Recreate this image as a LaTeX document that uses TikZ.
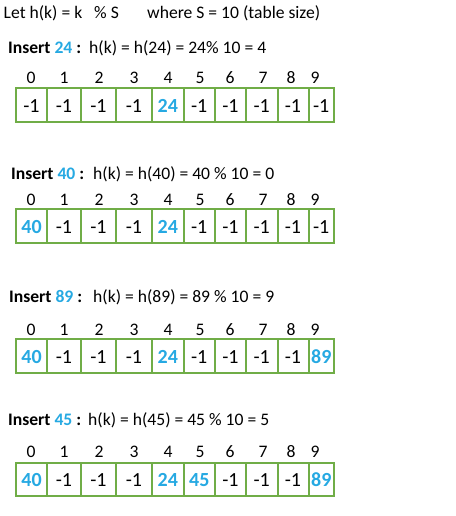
\documentclass[tikz,border=0pt]{standalone}
\usepackage{fontspec}
\setmainfont{Carlito}
\usetikzlibrary{positioning}
\definecolor{keyblue}{RGB}{38,169,226}
\definecolor{cellgreen}{RGB}{112,173,71}
\newcommand{\key}[1]{\textcolor{keyblue}{\bfseries #1}}
\tikzset{
  txt/.style={anchor=base west,inner sep=0pt,font=\fontsize{17.6}{20}\selectfont},
  idx/.style={anchor=base,inner sep=0pt,font=\fontsize{17.6}{20}\selectfont},
  val/.style={anchor=base,inner sep=0pt,font=\fontsize{20}{22}\selectfont},
  cell/.style={rectangle,draw=cellgreen,line width=2pt,minimum height=33.3pt,inner sep=0pt,outer sep=0pt}
}
\begin{document}
\begin{tikzpicture}[x=1pt,y=-1pt]
    \useasboundingbox (0,0) rectangle (455,516);
    \node[txt] (let) at (3.5,18.3) {Let h(k) = k\ \ \ \% S};
    \node[txt] (where) at (147,18.3) {where S = 10 (table size)};

    % insert 24
    \node[txt] (ins1) at (8,53.3) {\textbf{Insert \key{24} :}};
    \node[txt] (h1) at (89,53.3) {h(k) = h(24) = 24\% 10 = 4};
    \foreach \x/\i in {31/0,64/1,99/2,134/3,168/4,200/5,230/6,263/7,291/8,315/9}
      \node[idx] (ia\i) at (\x,83.3) {\i};
    \foreach \l/\r [count=\i from 0] in {16/47,47/81,81/116,116/152,152/183.5,183.5/215,215/246,246/277.5,277.5/308.5,308.5/334}
      \node[cell, minimum width={\r pt-\l pt}] (a\i) at ({(\l+\r)/2},105) {};
    \foreach \v [count=\i from 0] in {-1,-1,-1,-1,\key{24},-1,-1,-1,-1,-1}
      \node[val] (va\i) at ([yshift=-7.5pt]a\i.center) {\v};

    % insert 40
    \node[txt] (ins2) at (11,179) {\textbf{Insert \key{40} :}};
    \node[txt] (h2) at (93,179) {h(k) = h(40) = 40 \% 10 = 0};
    \foreach \x/\i in {31/0,64/1,99/2,134/3,168/4,200/5,230/6,263/7,291/8,315/9}
      \node[idx] (ib\i) at (\x,205.7) {\i};
    \foreach \l/\r [count=\i from 0] in {16/47,47/81,81/116,116/152,152/183.5,183.5/215,215/246,246/277.5,277.5/308.5,308.5/334}
      \node[cell, minimum width={\r pt-\l pt}] (b\i) at ({(\l+\r)/2},226) {};
    \foreach \v [count=\i from 0] in {\key{40},-1,-1,-1,\key{24},-1,-1,-1,-1,-1}
      \node[val] (vb\i) at ([yshift=-7.5pt]b\i.center) {\v};

    % insert 89
    \node[txt] (ins3) at (9,302.3) {\textbf{Insert \key{89} :}};
    \node[txt] (h3) at (93,302.3) {h(k) = h(89) = 89 \% 10 = 9};
    \foreach \x/\i in {31/0,64/1,99/2,134/3,168/4,200/5,230/6,263/7,291/8,315/9}
      \node[idx] (ic\i) at (\x,335.7) {\i};
    \foreach \l/\r [count=\i from 0] in {16/47,47/81,81/116,116/152,152/183.5,183.5/215,215/246,246/277.5,277.5/308.5,308.5/334}
      \node[cell, minimum width={\r pt-\l pt}] (c\i) at ({(\l+\r)/2},356) {};
    \foreach \v [count=\i from 0] in {\key{40},-1,-1,-1,\key{24},-1,-1,-1,-1,\key{89}}
      \node[val] (vc\i) at ([yshift=-7.5pt]c\i.center) {\v};

    % insert 45
    \node[txt] (ins4) at (8,425) {\textbf{Insert \key{45} :}};
    \node[txt] (h4) at (88,425) {h(k) = h(45) = 45 \% 10 = 5};
    \foreach \x/\i in {31/0,64/1,99/2,134/3,168/4,200/5,230/6,263/7,291/8,315/9}
      \node[idx] (id\i) at (\x,457.3) {\i};
    \foreach \l/\r [count=\i from 0] in {16/47,47/81,81/116,116/152,152/183.5,183.5/215,215/246,246/277.5,277.5/308.5,308.5/334}
      \node[cell, minimum width={\r pt-\l pt}] (d\i) at ({(\l+\r)/2},479.2) {};
    \foreach \v [count=\i from 0] in {\key{40},-1,-1,-1,\key{24},\key{45},-1,-1,-1,\key{89}}
      \node[val] (vd\i) at ([yshift=-7.5pt]d\i.center) {\v};
\end{tikzpicture}
\end{document}
